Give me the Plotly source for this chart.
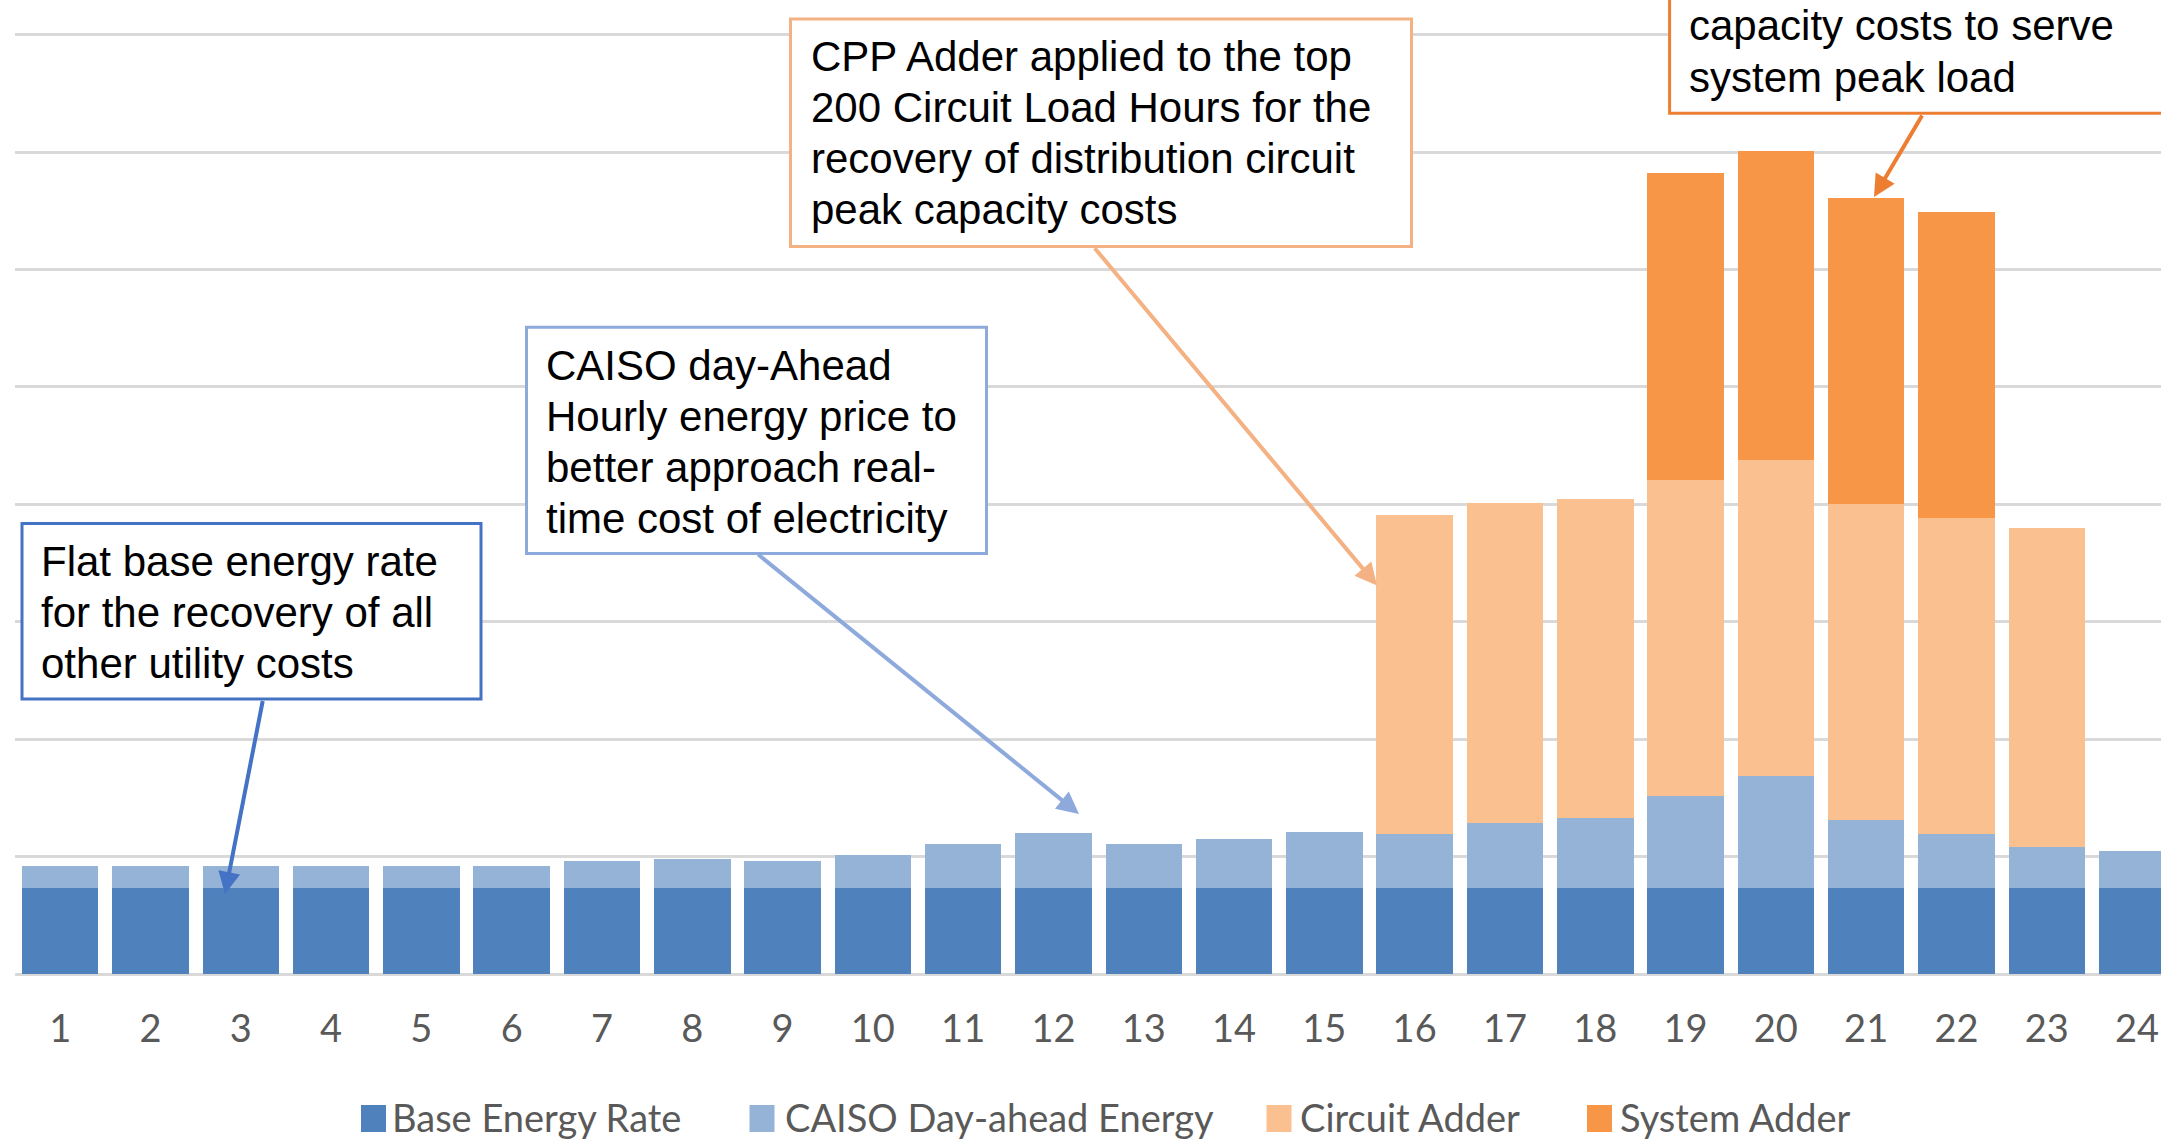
import plotly.graph_objects as go

# ---- data ----
hours = list(range(1, 25))
hour_labels = [str(h) for h in hours]
base_energy = [0.73] * 24
caiso_energy = [0.19, 0.19, 0.19, 0.19, 0.19, 0.19, 0.23, 0.25, 0.23, 0.28, 0.38, 0.47,
                0.38, 0.42, 0.48, 0.46, 0.56, 0.60, 0.79, 0.96, 0.58, 0.46, 0.35, 0.32]
circuit_adder = [0] * 15 + [2.72, 2.72, 2.72, 2.69, 2.69, 2.69, 2.69, 2.72] + [0]
system_adder = [0] * 18 + [2.61, 2.63, 2.61, 2.61] + [0, 0]

series_names = ["Base Energy Rate", "CAISO Day-ahead Energy", "Circuit Adder", "System Adder"]
series_colors = ["#4F81BD", "#95B3D7", "#FAC090", "#F79646"]
series_values = [base_energy, caiso_energy, circuit_adder, system_adder]

callout_lines = [
    ["Flat base energy rate", "for the recovery of all", "other utility costs"],
    ["CAISO day-Ahead", "Hourly energy price to", "better approach real-", "time cost of electricity"],
    ["CPP Adder applied to the top", "200 Circuit Load Hours for the",
     "recovery of distribution circuit", "peak capacity costs"],
    ["capacity costs to serve", "system peak load"],
]

# ---- layout geometry (page pixels) ----
W, H = 2161, 1141
L, B = 15, 167
PLOT_W, PLOT_H = W - L, H - B
X_RANGE = [0.5, 24.265]
Y_RANGE = [0, 8.296]


def dx(px):
    return X_RANGE[0] + (px - L) * (X_RANGE[1] - X_RANGE[0]) / PLOT_W


def dy(py):
    return (PLOT_H - py) * (Y_RANGE[1] - Y_RANGE[0]) / PLOT_H


def paper_x(px):
    return (px - L) / PLOT_W


def paper_y(py):
    return (PLOT_H - py) / PLOT_H


fig = go.Figure()
for name, color, vals in zip(series_names, series_colors, series_values):
    fig.add_trace(go.Bar(x=hours, y=vals, name=name, marker_color=color,
                         marker_line_width=0, hoverinfo="skip", showlegend=False))

label_font = dict(family="Liberation Sans, Arial, sans-serif", size=42, color="black")

# ---- callout boxes: (left, right, top, bottom) in page px, border colour ----
boxes = [
    ((22, 481, 523.5, 699), "#4472C4"),
    ((526.5, 986.5, 327.3, 553.5), "#8EA9DB"),
    ((790.5, 1411.5, 19, 246.5), "#F4B183"),
    ((1669.6, 2300, -150, 113.3), "#ED7D31"),
]
for (x0, x1, y0, y1), c in boxes:
    fig.add_shape(type="rect", xref="x", yref="y", x0=dx(x0), x1=dx(x1),
                  y0=dy(y1), y1=dy(y0), line=dict(color=c, width=3),
                  fillcolor="white", layer="above")

# text: left x and first baseline (page px), line pitch
text_pos = [(40, 575, 51), (545, 379, 51), (810, 70, 50.7), (1688, 38.3, 52)]
ascent = 0.895 * label_font["size"]
for (tx, base_y, pitch), lines in zip(text_pos, callout_lines):
    for i, line in enumerate(lines):
        fig.add_annotation(x=dx(tx), y=dy(base_y + i * pitch - ascent), xref="x", yref="y",
                           text=line, showarrow=False, xanchor="left", yanchor="top",
                           align="left", font=label_font, borderpad=0)

# arrows: tip (x, y) and tail (x, y) in page px
arrows = [
    ((225, 894), (263, 699.5), "#4472C4"),
    ((1079, 814), (756.7, 553.3), "#8EA9DB"),
    ((1377, 585.5), (1093.5, 246.7), "#F4B183"),
    ((1874, 197), (1923, 114), "#ED7D31"),
]
for (tx, ty), (ax, ay), c in arrows:
    fig.add_annotation(x=dx(tx), y=dy(ty), ax=dx(ax), ay=dy(ay), xref="x", yref="y",
                       axref="x", ayref="y", text="", showarrow=True, arrowhead=2,
                       arrowsize=1.1, arrowwidth=4, arrowcolor=c)

# ---- legend (drawn as key squares + labels under the axis) ----
legend_font = dict(family="Lato, sans-serif", size=38, color="#595959")
legend_keys = [361, 749.5, 1266.5, 1587]
legend_text_x = [391, 784, 1299, 1619]
LEG_BASE = 1131
for name, color, kx, lx in zip(series_names, series_colors, legend_keys, legend_text_x):
    fig.add_shape(type="rect", xref="paper", yref="paper", x0=paper_x(kx), x1=paper_x(kx + 25),
                  y0=paper_y(LEG_BASE + 1), y1=paper_y(LEG_BASE - 26), fillcolor=color,
                  line_width=0)
    fig.add_annotation(x=paper_x(lx), y=paper_y(LEG_BASE - 0.987 * legend_font["size"]),
                       xref="paper", yref="paper", text=name, showarrow=False,
                       xanchor="left", yanchor="top", font=legend_font, borderpad=0)

fig.update_layout(
    width=W, height=H,
    margin=dict(l=L, r=0, t=0, b=B, autoexpand=False),
    plot_bgcolor="white", paper_bgcolor="white",
    barmode="stack", bargap=0.153,
    showlegend=False,
    xaxis=dict(range=X_RANGE, tickvals=hours, ticktext=hour_labels, automargin=False,
               showgrid=False, zeroline=False, showline=False,
               ticks="outside", ticklen=21, tickcolor="rgba(0,0,0,0)",
               tickfont=dict(family="Lato, sans-serif", size=38, color="#595959")),
    yaxis=dict(range=Y_RANGE, dtick=1, showgrid=True, gridcolor="#D9D9D9", gridwidth=3,
               zeroline=True, zerolinecolor="#D9D9D9", zerolinewidth=3,
               showticklabels=False, automargin=False),
)

fig.write_html("out.html", config={"displayModeBar": False},
               post_script="document.body.style.margin='0';document.body.style.overflow='hidden';")
